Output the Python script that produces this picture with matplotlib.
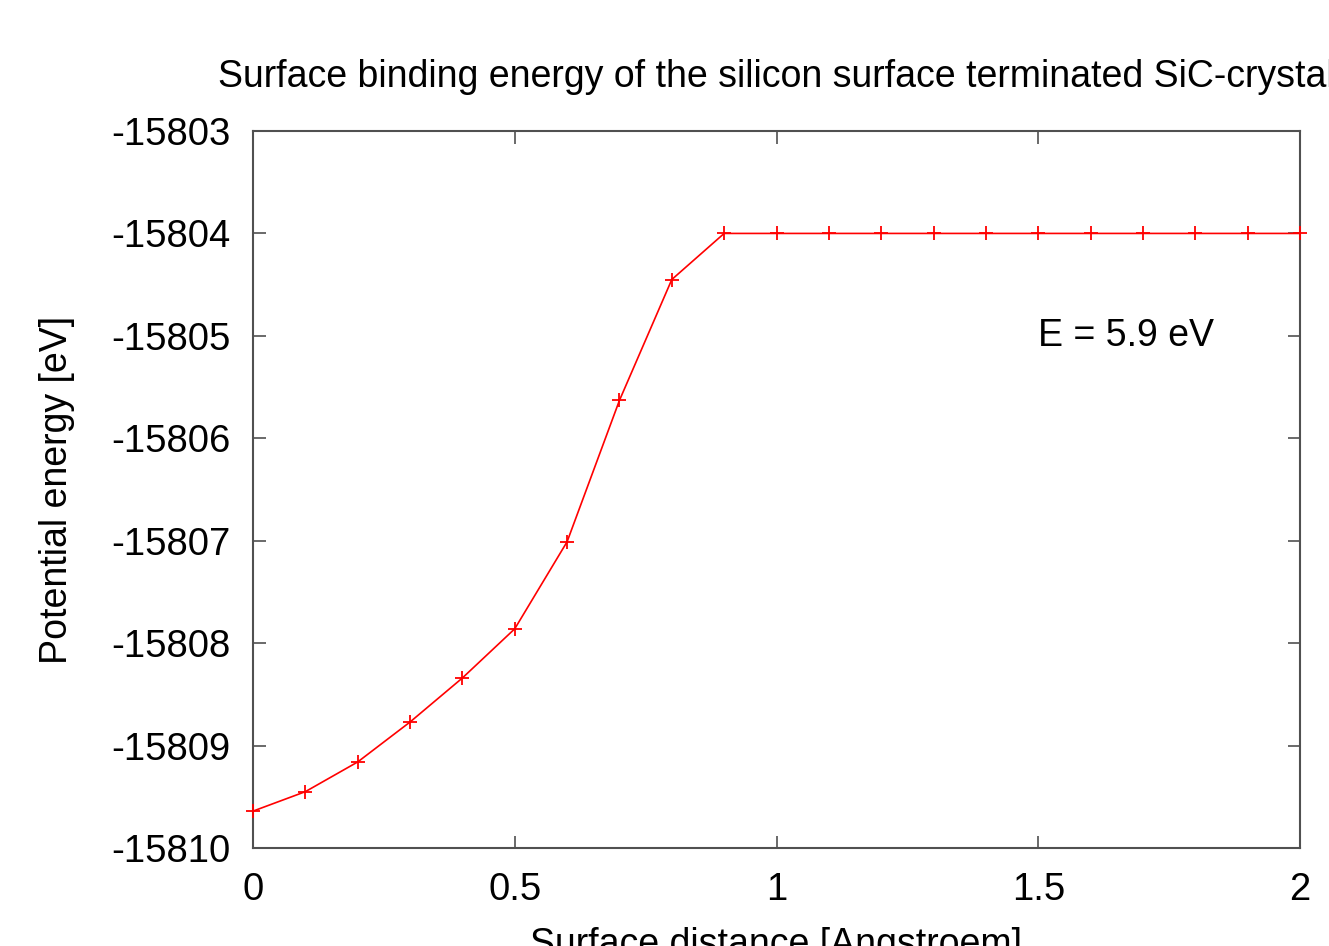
import matplotlib
matplotlib.use("Agg")
import matplotlib.pyplot as plt

distance = [0.0, 0.1, 0.2, 0.3, 0.4, 0.5, 0.6, 0.7, 0.8, 0.9, 1.0,
            1.1, 1.2, 1.3, 1.4, 1.5, 1.6, 1.7, 1.8, 1.9, 2.0]
energy = [-15809.64, -15809.45, -15809.16, -15808.77, -15808.34, -15807.86,
          -15807.01, -15805.63, -15804.45, -15804.0, -15804.0,
          -15804.0, -15804.0, -15804.0, -15804.0, -15804.0, -15804.0,
          -15804.0, -15804.0, -15804.0, -15804.0]
x_ticks = [0, 0.5, 1, 1.5, 2]
x_tick_labels = ["0", "0.5", "1", "1.5", "2"]
y_ticks = [-15810, -15809, -15808, -15807, -15806, -15805, -15804, -15803]
y_tick_labels = [str(v) for v in y_ticks]

plt.rcParams['font.family'] = ['Liberation Sans', 'DejaVu Sans']

W, H = 1329, 946
fig = plt.figure(figsize=(W / 100, H / 100), dpi=100)
ax = fig.add_axes([253 / W, 1 - 848 / H, (1300 - 253) / W, (848 - 131) / H])

ax.plot(distance, energy, color='#ff0000', lw=1.2, marker='+', ms=10, mew=1.3,
        clip_on=False, zorder=3)

ax.set_xlim(0, 2)
ax.set_ylim(-15810, -15803)
ax.set_xticks(x_ticks)
ax.set_xticklabels(x_tick_labels)
ax.set_yticks(y_ticks)
ax.set_yticklabels(y_tick_labels)

frame_color = '#505050'
for s in ax.spines.values():
    s.set_color(frame_color)
    s.set_linewidth(1.5)
ax.tick_params(direction='in', length=9, width=1.2, color=frame_color,
               top=True, right=True, labelsize=27.5, labelcolor='black')
ax.tick_params(axis='x', pad=17)
ax.tick_params(axis='y', pad=16)

ax.set_title("Surface binding energy of the silicon surface terminated SiC-crystal",
             fontsize=27, pad=32)
ax.set_ylabel("Potential energy [eV]", fontsize=27, labelpad=26)
fig.text(776 / W, 1 - 927 / H, "Surface distance [Angstroem]", fontsize=27,
         ha='center', va='top')
ax.text(1.5, -15805, "E = 5.9 eV", fontsize=27, ha='left', va='center')

fig.savefig("out.png", dpi=100)
